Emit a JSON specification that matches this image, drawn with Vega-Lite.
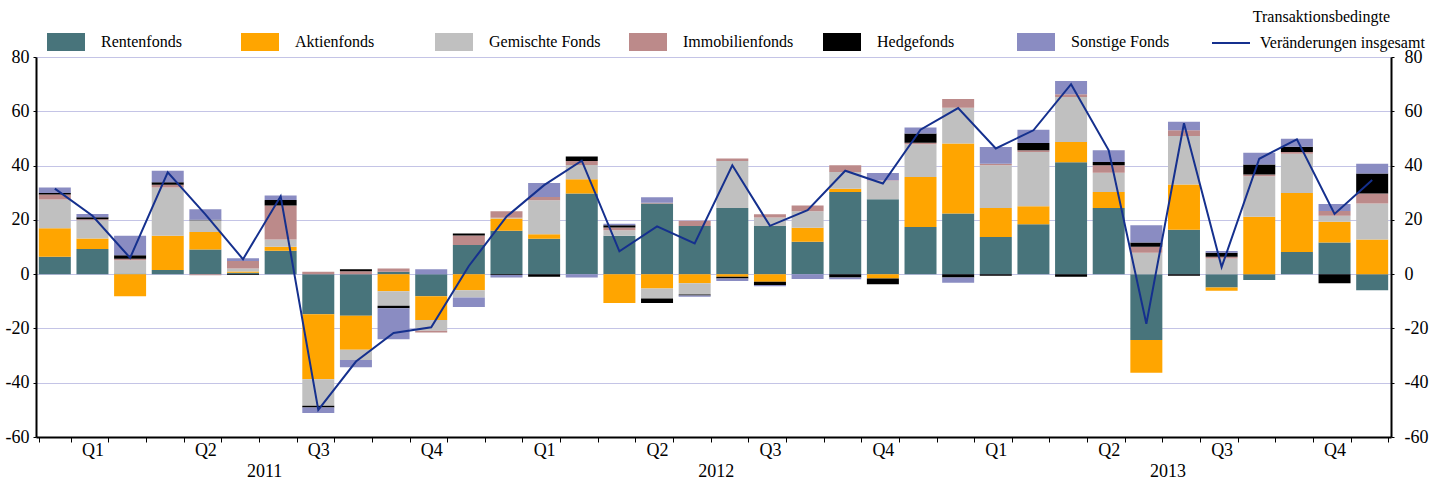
{
  "$schema": "https://vega.github.io/schema/vega-lite/v6.json",
  "width": 1355,
  "height": 380,
  "autosize": {"type": "none"},
  "padding": {"left": 36, "top": 57, "right": 51, "bottom": 47},
  "background": "white",
  "config": {
    "font": "Liberation Serif",
    "view": {"stroke": null},
    "axis": {"labelFont": "Liberation Serif", "labelFontSize": 18, "labelColor": "#000"},
    "legend": {"labelFont": "Liberation Serif", "labelFontSize": 16, "labelColor": "#000"}
  },
  "title": {"text": "Transaktionsbedingte", "anchor": "end", "font": "Liberation Serif", "fontSize": 16, "fontWeight": "normal", "color": "#000", "offset": -2, "dx": -38},
  "datasets": {
    "ordnung": [
      {"f":"Rentenfonds","o":1},{"f":"Aktienfonds","o":2},{"f":"Gemischte Fonds","o":3},{"f":"Immobilienfonds","o":4},{"f":"Hedgefonds","o":5},{"f":"Sonstige Fonds","o":6}
    ],
    "fonds": [
      {"m":"2011-01","f":"Rentenfonds","v":6.4},{"m":"2011-01","f":"Aktienfonds","v":10.5},{"m":"2011-01","f":"Gemischte Fonds","v":10.6},{"m":"2011-01","f":"Immobilienfonds","v":1.8},{"m":"2011-01","f":"Hedgefonds","v":0.6},{"m":"2011-01","f":"Sonstige Fonds","v":2.0},
      {"m":"2011-02","f":"Rentenfonds","v":9.3},{"m":"2011-02","f":"Aktienfonds","v":3.8},{"m":"2011-02","f":"Gemischte Fonds","v":6.8},{"m":"2011-02","f":"Immobilienfonds","v":0.3},{"m":"2011-02","f":"Hedgefonds","v":0.8},{"m":"2011-02","f":"Sonstige Fonds","v":1.2},
      {"m":"2011-03","f":"Rentenfonds","v":0.2},{"m":"2011-03","f":"Aktienfonds","v":-8.1},{"m":"2011-03","f":"Gemischte Fonds","v":4.9},{"m":"2011-03","f":"Immobilienfonds","v":0.6},{"m":"2011-03","f":"Hedgefonds","v":1.3},{"m":"2011-03","f":"Sonstige Fonds","v":7.1},
      {"m":"2011-04","f":"Rentenfonds","v":1.5},{"m":"2011-04","f":"Aktienfonds","v":12.6},{"m":"2011-04","f":"Gemischte Fonds","v":17.8},{"m":"2011-04","f":"Immobilienfonds","v":1.0},{"m":"2011-04","f":"Hedgefonds","v":1.0},{"m":"2011-04","f":"Sonstige Fonds","v":4.2},
      {"m":"2011-05","f":"Rentenfonds","v":9.1},{"m":"2011-05","f":"Aktienfonds","v":6.4},{"m":"2011-05","f":"Gemischte Fonds","v":4.4},{"m":"2011-05","f":"Immobilienfonds","v":-0.4},{"m":"2011-05","f":"Hedgefonds","v":0.1},{"m":"2011-05","f":"Sonstige Fonds","v":3.9},
      {"m":"2011-06","f":"Rentenfonds","v":0.5},{"m":"2011-06","f":"Aktienfonds","v":0.5},{"m":"2011-06","f":"Gemischte Fonds","v":1.1},{"m":"2011-06","f":"Immobilienfonds","v":2.7},{"m":"2011-06","f":"Hedgefonds","v":-0.3},{"m":"2011-06","f":"Sonstige Fonds","v":1.1},
      {"m":"2011-07","f":"Rentenfonds","v":8.6},{"m":"2011-07","f":"Aktienfonds","v":1.5},{"m":"2011-07","f":"Gemischte Fonds","v":2.7},{"m":"2011-07","f":"Immobilienfonds","v":12.5},{"m":"2011-07","f":"Hedgefonds","v":2.0},{"m":"2011-07","f":"Sonstige Fonds","v":1.7},
      {"m":"2011-08","f":"Rentenfonds","v":-14.8},{"m":"2011-08","f":"Aktienfonds","v":-23.9},{"m":"2011-08","f":"Gemischte Fonds","v":-9.8},{"m":"2011-08","f":"Immobilienfonds","v":0.9},{"m":"2011-08","f":"Hedgefonds","v":-0.6},{"m":"2011-08","f":"Sonstige Fonds","v":-2.1},
      {"m":"2011-09","f":"Rentenfonds","v":-15.3},{"m":"2011-09","f":"Aktienfonds","v":-12.6},{"m":"2011-09","f":"Gemischte Fonds","v":-3.7},{"m":"2011-09","f":"Immobilienfonds","v":1.1},{"m":"2011-09","f":"Hedgefonds","v":0.7},{"m":"2011-09","f":"Sonstige Fonds","v":-2.7},
      {"m":"2011-10","f":"Rentenfonds","v":0.9},{"m":"2011-10","f":"Aktienfonds","v":-6.3},{"m":"2011-10","f":"Gemischte Fonds","v":-5.3},{"m":"2011-10","f":"Immobilienfonds","v":1.2},{"m":"2011-10","f":"Hedgefonds","v":-1.0},{"m":"2011-10","f":"Sonstige Fonds","v":-11.4},
      {"m":"2011-11","f":"Rentenfonds","v":-8.1},{"m":"2011-11","f":"Aktienfonds","v":-8.8},{"m":"2011-11","f":"Gemischte Fonds","v":-4.0},{"m":"2011-11","f":"Immobilienfonds","v":-0.6},{"m":"2011-11","f":"Hedgefonds","v":0},{"m":"2011-11","f":"Sonstige Fonds","v":1.8},
      {"m":"2011-12","f":"Rentenfonds","v":10.7},{"m":"2011-12","f":"Aktienfonds","v":-5.9},{"m":"2011-12","f":"Gemischte Fonds","v":-2.7},{"m":"2011-12","f":"Immobilienfonds","v":3.5},{"m":"2011-12","f":"Hedgefonds","v":0.8},{"m":"2011-12","f":"Sonstige Fonds","v":-3.5},
      {"m":"2012-01","f":"Rentenfonds","v":16.0},{"m":"2012-01","f":"Aktienfonds","v":4.5},{"m":"2012-01","f":"Gemischte Fonds","v":0.3},{"m":"2012-01","f":"Immobilienfonds","v":2.4},{"m":"2012-01","f":"Hedgefonds","v":-0.3},{"m":"2012-01","f":"Sonstige Fonds","v":-0.9},
      {"m":"2012-02","f":"Rentenfonds","v":13.0},{"m":"2012-02","f":"Aktienfonds","v":1.7},{"m":"2012-02","f":"Gemischte Fonds","v":12.5},{"m":"2012-02","f":"Immobilienfonds","v":1.2},{"m":"2012-02","f":"Hedgefonds","v":-1.0},{"m":"2012-02","f":"Sonstige Fonds","v":5.2},
      {"m":"2012-03","f":"Rentenfonds","v":29.7},{"m":"2012-03","f":"Aktienfonds","v":5.3},{"m":"2012-03","f":"Gemischte Fonds","v":5.2},{"m":"2012-03","f":"Immobilienfonds","v":1.5},{"m":"2012-03","f":"Hedgefonds","v":1.6},{"m":"2012-03","f":"Sonstige Fonds","v":-1.2},
      {"m":"2012-04","f":"Rentenfonds","v":14.1},{"m":"2012-04","f":"Aktienfonds","v":-10.6},{"m":"2012-04","f":"Gemischte Fonds","v":2.1},{"m":"2012-04","f":"Immobilienfonds","v":1.0},{"m":"2012-04","f":"Hedgefonds","v":0.8},{"m":"2012-04","f":"Sonstige Fonds","v":0.6},
      {"m":"2012-05","f":"Rentenfonds","v":26.0},{"m":"2012-05","f":"Aktienfonds","v":-5.3},{"m":"2012-05","f":"Gemischte Fonds","v":-3.7},{"m":"2012-05","f":"Immobilienfonds","v":0.3},{"m":"2012-05","f":"Hedgefonds","v":-1.6},{"m":"2012-05","f":"Sonstige Fonds","v":2.0},
      {"m":"2012-06","f":"Rentenfonds","v":17.7},{"m":"2012-06","f":"Aktienfonds","v":-3.4},{"m":"2012-06","f":"Gemischte Fonds","v":-4.1},{"m":"2012-06","f":"Immobilienfonds","v":2.0},{"m":"2012-06","f":"Hedgefonds","v":-0.4},{"m":"2012-06","f":"Sonstige Fonds","v":-0.4},
      {"m":"2012-07","f":"Rentenfonds","v":24.4},{"m":"2012-07","f":"Aktienfonds","v":-1.0},{"m":"2012-07","f":"Gemischte Fonds","v":17.3},{"m":"2012-07","f":"Immobilienfonds","v":0.9},{"m":"2012-07","f":"Hedgefonds","v":-0.6},{"m":"2012-07","f":"Sonstige Fonds","v":-0.9},
      {"m":"2012-08","f":"Rentenfonds","v":17.7},{"m":"2012-08","f":"Aktienfonds","v":-2.8},{"m":"2012-08","f":"Gemischte Fonds","v":3.2},{"m":"2012-08","f":"Immobilienfonds","v":1.2},{"m":"2012-08","f":"Hedgefonds","v":-1.2},{"m":"2012-08","f":"Sonstige Fonds","v":-0.5},
      {"m":"2012-09","f":"Rentenfonds","v":11.9},{"m":"2012-09","f":"Aktienfonds","v":5.2},{"m":"2012-09","f":"Gemischte Fonds","v":6.1},{"m":"2012-09","f":"Immobilienfonds","v":2.1},{"m":"2012-09","f":"Hedgefonds","v":0},{"m":"2012-09","f":"Sonstige Fonds","v":-1.8},
      {"m":"2012-10","f":"Rentenfonds","v":30.3},{"m":"2012-10","f":"Aktienfonds","v":1.2},{"m":"2012-10","f":"Gemischte Fonds","v":6.1},{"m":"2012-10","f":"Immobilienfonds","v":2.5},{"m":"2012-10","f":"Hedgefonds","v":-1.2},{"m":"2012-10","f":"Sonstige Fonds","v":-0.7},
      {"m":"2012-11","f":"Rentenfonds","v":27.6},{"m":"2012-11","f":"Aktienfonds","v":-1.6},{"m":"2012-11","f":"Gemischte Fonds","v":6.8},{"m":"2012-11","f":"Immobilienfonds","v":0.2},{"m":"2012-11","f":"Hedgefonds","v":-2.1},{"m":"2012-11","f":"Sonstige Fonds","v":2.7},
      {"m":"2012-12","f":"Rentenfonds","v":17.4},{"m":"2012-12","f":"Aktienfonds","v":18.4},{"m":"2012-12","f":"Gemischte Fonds","v":12.1},{"m":"2012-12","f":"Immobilienfonds","v":0.5},{"m":"2012-12","f":"Hedgefonds","v":3.4},{"m":"2012-12","f":"Sonstige Fonds","v":2.2},
      {"m":"2013-01","f":"Rentenfonds","v":22.3},{"m":"2013-01","f":"Aktienfonds","v":25.8},{"m":"2013-01","f":"Gemischte Fonds","v":13.2},{"m":"2013-01","f":"Immobilienfonds","v":3.2},{"m":"2013-01","f":"Hedgefonds","v":-1.2},{"m":"2013-01","f":"Sonstige Fonds","v":-2.0},
      {"m":"2013-02","f":"Rentenfonds","v":13.7},{"m":"2013-02","f":"Aktienfonds","v":10.7},{"m":"2013-02","f":"Gemischte Fonds","v":15.7},{"m":"2013-02","f":"Immobilienfonds","v":0.6},{"m":"2013-02","f":"Hedgefonds","v":-0.6},{"m":"2013-02","f":"Sonstige Fonds","v":6.1},
      {"m":"2013-03","f":"Rentenfonds","v":18.4},{"m":"2013-03","f":"Aktienfonds","v":6.6},{"m":"2013-03","f":"Gemischte Fonds","v":20.0},{"m":"2013-03","f":"Immobilienfonds","v":0.6},{"m":"2013-03","f":"Hedgefonds","v":2.7},{"m":"2013-03","f":"Sonstige Fonds","v":4.9},
      {"m":"2013-04","f":"Rentenfonds","v":41.2},{"m":"2013-04","f":"Aktienfonds","v":7.5},{"m":"2013-04","f":"Gemischte Fonds","v":16.6},{"m":"2013-04","f":"Immobilienfonds","v":1.0},{"m":"2013-04","f":"Hedgefonds","v":-1.0},{"m":"2013-04","f":"Sonstige Fonds","v":4.9},
      {"m":"2013-05","f":"Rentenfonds","v":24.4},{"m":"2013-05","f":"Aktienfonds","v":5.9},{"m":"2013-05","f":"Gemischte Fonds","v":7.1},{"m":"2013-05","f":"Immobilienfonds","v":2.7},{"m":"2013-05","f":"Hedgefonds","v":1.2},{"m":"2013-05","f":"Sonstige Fonds","v":4.3},
      {"m":"2013-06","f":"Rentenfonds","v":-24.3},{"m":"2013-06","f":"Aktienfonds","v":-12.0},{"m":"2013-06","f":"Gemischte Fonds","v":7.9},{"m":"2013-06","f":"Immobilienfonds","v":2.2},{"m":"2013-06","f":"Hedgefonds","v":1.6},{"m":"2013-06","f":"Sonstige Fonds","v":6.3},
      {"m":"2013-07","f":"Rentenfonds","v":16.4},{"m":"2013-07","f":"Aktienfonds","v":16.6},{"m":"2013-07","f":"Gemischte Fonds","v":17.9},{"m":"2013-07","f":"Immobilienfonds","v":2.1},{"m":"2013-07","f":"Hedgefonds","v":-0.6},{"m":"2013-07","f":"Sonstige Fonds","v":3.1},
      {"m":"2013-08","f":"Rentenfonds","v":-4.9},{"m":"2013-08","f":"Aktienfonds","v":-1.2},{"m":"2013-08","f":"Gemischte Fonds","v":5.8},{"m":"2013-08","f":"Immobilienfonds","v":0.6},{"m":"2013-08","f":"Hedgefonds","v":1.5},{"m":"2013-08","f":"Sonstige Fonds","v":0.6},
      {"m":"2013-09","f":"Rentenfonds","v":-2.2},{"m":"2013-09","f":"Aktienfonds","v":21.1},{"m":"2013-09","f":"Gemischte Fonds","v":15.0},{"m":"2013-09","f":"Immobilienfonds","v":0.6},{"m":"2013-09","f":"Hedgefonds","v":3.7},{"m":"2013-09","f":"Sonstige Fonds","v":4.3},
      {"m":"2013-10","f":"Rentenfonds","v":8.2},{"m":"2013-10","f":"Aktienfonds","v":21.7},{"m":"2013-10","f":"Gemischte Fonds","v":14.5},{"m":"2013-10","f":"Immobilienfonds","v":0.6},{"m":"2013-10","f":"Hedgefonds","v":1.9},{"m":"2013-10","f":"Sonstige Fonds","v":3.0},
      {"m":"2013-11","f":"Rentenfonds","v":11.7},{"m":"2013-11","f":"Aktienfonds","v":7.6},{"m":"2013-11","f":"Gemischte Fonds","v":2.2},{"m":"2013-11","f":"Immobilienfonds","v":1.8},{"m":"2013-11","f":"Hedgefonds","v":-3.4},{"m":"2013-11","f":"Sonstige Fonds","v":2.5},
      {"m":"2013-12","f":"Rentenfonds","v":-5.9},{"m":"2013-12","f":"Aktienfonds","v":12.8},{"m":"2013-12","f":"Gemischte Fonds","v":13.2},{"m":"2013-12","f":"Immobilienfonds","v":3.7},{"m":"2013-12","f":"Hedgefonds","v":7.4},{"m":"2013-12","f":"Sonstige Fonds","v":3.6}
    ],
    "total": [
      {"m":"2011-01","t":31.5},{"m":"2011-02","t":21.5},{"m":"2011-03","t":6.0},{"m":"2011-04","t":37.5},{"m":"2011-05","t":22.0},{"m":"2011-06","t":5.5},
      {"m":"2011-07","t":28.7},{"m":"2011-08","t":-50.0},{"m":"2011-09","t":-32.2},{"m":"2011-10","t":-21.7},{"m":"2011-11","t":-19.6},{"m":"2011-12","t":3.0},
      {"m":"2012-01","t":21.2},{"m":"2012-02","t":32.8},{"m":"2012-03","t":41.8},{"m":"2012-04","t":8.4},{"m":"2012-05","t":17.6},{"m":"2012-06","t":11.3},
      {"m":"2012-07","t":40.1},{"m":"2012-08","t":17.8},{"m":"2012-09","t":23.6},{"m":"2012-10","t":38.1},{"m":"2012-11","t":33.4},{"m":"2012-12","t":53.2},
      {"m":"2013-01","t":61.2},{"m":"2013-02","t":46.3},{"m":"2013-03","t":53.0},{"m":"2013-04","t":70.0},{"m":"2013-05","t":45.6},{"m":"2013-06","t":-18.3},
      {"m":"2013-07","t":55.6},{"m":"2013-08","t":2.6},{"m":"2013-09","t":42.5},{"m":"2013-10","t":49.7},{"m":"2013-11","t":22.2},{"m":"2013-12","t":34.7}
    ],
    "years": [
      {"m":"2011-07","y":"2011"},{"m":"2012-07","y":"2012"},{"m":"2013-07","y":"2013"}
    ]
  },
  "layer": [
    {
      "data": {"name": "fonds"},
      "transform": [
        {"lookup": "f", "from": {"data": {"name": "ordnung"}, "key": "f", "fields": ["o"]}}
      ],
      "mark": {"type": "bar"},
      "encoding": {
        "x": {
          "field": "m", "type": "ordinal",
          "scale": {"paddingInner": 0.15, "paddingOuter": 0.075},
          "axis": {
            "title": null, "orient": "bottom", "tickBand": "extent", "tickSize": 5,
            "tickColor": "#000", "domainColor": "#000", "domainWidth": 2,
            "grid": false, "labelAngle": 0, "labelPadding": -1, "labelOverlap": false,
            "labelExpr": "substring('' + datum.value, 5) == '02' ? 'Q1' : substring('' + datum.value, 5) == '05' ? 'Q2' : substring('' + datum.value, 5) == '08' ? 'Q3' : substring('' + datum.value, 5) == '11' ? 'Q4' : ''"
          }
        },
        "y": {
          "field": "v", "type": "quantitative", "stack": "zero",
          "scale": {"domain": [-60, 80], "nice": false, "zero": false},
          "axis": {
            "title": null, "orient": "left", "values": [-60, -40, -20, 0, 20, 40, 60, 80],
            "grid": true, "gridColor": "#c4c4e6",
            "domainColor": "#000", "domainWidth": 2,
            "tickSize": 3, "tickColor": "#000", "labelPadding": 4,
            "labelExpr": "'' + datum.value"
          }
        },
        "order": {"field": "o", "type": "quantitative"},
        "color": {
          "field": "f", "type": "nominal",
          "scale": {
            "domain": ["Rentenfonds", "Aktienfonds", "Gemischte Fonds", "Immobilienfonds", "Hedgefonds", "Sonstige Fonds"],
            "range": ["#48747b", "#ffa500", "#c0c0c0", "#bc8a8a", "#000000", "#8a8cc2"]
          },
          "legend": {
            "title": null, "orient": "none", "legendX": 11, "legendY": -34, "direction": "horizontal",
            "columns": 6, "gridAlign": "all", "columnPadding": 28, "labelOffset": 16,
            "symbolType": "M-1,-0.47H1V0.47H-1Z", "symbolSize": 1444, "symbolStrokeWidth": 0, "labelLimit": 200
          }
        }
      }
    },
    {
      "data": {"name": "total"},
      "mark": {"type": "line", "strokeWidth": 2},
      "encoding": {
        "x": {"field": "m", "type": "ordinal"},
        "y": {
          "field": "t", "type": "quantitative",
          "scale": {"domain": [-60, 80], "nice": false, "zero": false},
          "axis": {
            "title": null, "orient": "right", "values": [-60, -40, -20, 0, 20, 40, 60, 80],
            "grid": false, "domainColor": "#000", "domainWidth": 2,
            "tickSize": 3, "tickColor": "#000", "labelPadding": 10,
            "labelExpr": "'' + datum.value"
          }
        },
        "stroke": {
          "datum": "Veränderungen insgesamt",
          "scale": {"range": ["#15308e"]},
          "legend": {
            "title": null, "orient": "none", "legendX": 1175, "legendY": -34,
            "symbolType": "stroke", "symbolSize": 1444, "symbolStrokeWidth": 2, "labelOffset": 9, "labelLimit": 250
          }
        }
      }
    },
    {
      "data": {"name": "years"},
      "mark": {"type": "text", "fontSize": 18, "font": "Liberation Serif", "color": "#000", "baseline": "top", "dy": 26, "clip": false},
      "encoding": {
        "x": {"field": "m", "type": "ordinal", "bandPosition": 0},
        "y": {"datum": -60, "type": "quantitative", "axis": null},
        "text": {"field": "y"}
      }
    }
  ],
  "resolve": {"axis": {"y": "independent"}}
}
